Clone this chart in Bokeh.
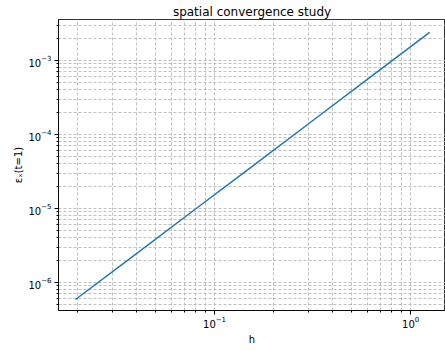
from bokeh.plotting import figure
from bokeh.models import Range1d, FixedTicker, LogTickFormatter
from bokeh.embed import file_html
from bokeh.resources import INLINE

# data
h = [1.25, 0.625, 0.3125, 0.15625, 0.078125, 0.0390625, 0.01953125]
err = [2.4e-3, 6.0e-4, 1.5e-4, 3.75e-5, 9.4e-6, 2.35e-6, 5.9e-7]
title = "spatial convergence study"
xlabel = "h"
ylabel = "εₓ(t=1)"
x_major = [1e-1, 1e0]
y_major = [1e-6, 1e-5, 1e-4, 1e-3]
x_decades = [1e-2, 1e-1, 1e0]
y_decades = [1e-7, 1e-6, 1e-5, 1e-4, 1e-3]

def minors(decades):
    out = []
    for m in decades:
        for k in range(2, 10):
            out.append(m * k)
    return out

p = figure(width=445, height=351, x_axis_type="log", y_axis_type="log",
           output_backend="svg", toolbar_location=None,
           x_range=Range1d(10 ** -1.796, 10 ** 0.178),
           y_range=Range1d(10 ** -6.378, 10 ** -2.446),
           min_border_left=58, min_border_right=0, min_border_top=19, min_border_bottom=41)

p.title.text = title
p.title.text_font = "DejaVu Sans"
p.title.text_font_size = "12px"
p.title.text_font_style = "normal"
p.title.text_color = "black"
p.title.align = "center"
p.title.standoff = 2

p.line(h, err, line_color="#1f77b4", line_width=1.5)

p.xaxis.ticker = FixedTicker(ticks=x_major, minor_ticks=minors(x_decades))
p.yaxis.ticker = FixedTicker(ticks=y_major, minor_ticks=minors(y_decades))
for ax in (p.xaxis, p.yaxis):
    ax.formatter = LogTickFormatter()
    ax.major_label_text_font = "DejaVu Sans"
    ax.major_label_text_font_size = "10px"
    ax.major_label_text_color = "black"
    ax.axis_label_text_font = "DejaVu Sans"
    ax.axis_label_text_font_size = "10px"
    ax.axis_label_text_font_style = "normal"
    ax.axis_label_text_color = "black"
    ax.major_tick_out = 4
    ax.major_tick_in = 0
    ax.minor_tick_out = 2
    ax.minor_tick_in = 0
    ax.axis_line_color = "black"
    ax.major_tick_line_color = "black"
    ax.minor_tick_line_color = "black"
    ax.axis_line_width = 0.8
p.xaxis.major_label_standoff = 1
p.yaxis.major_label_standoff = 3
p.xaxis.axis_label = xlabel
p.yaxis.axis_label = ylabel
p.xaxis.axis_label_standoff = 3
p.yaxis.axis_label_standoff = 1

p.outline_line_color = "black"
p.outline_line_width = 0.8

for g in (p.xgrid, p.ygrid):
    g.grid_line_color = "#b0b0b0"
    g.grid_line_dash = "3 2"
    g.grid_line_width = 0.8
    g.minor_grid_line_color = "#b0b0b0"
    g.minor_grid_line_dash = "3 2"
    g.minor_grid_line_width = 0.8

open("out.html", "w").write(file_html(p, INLINE))
